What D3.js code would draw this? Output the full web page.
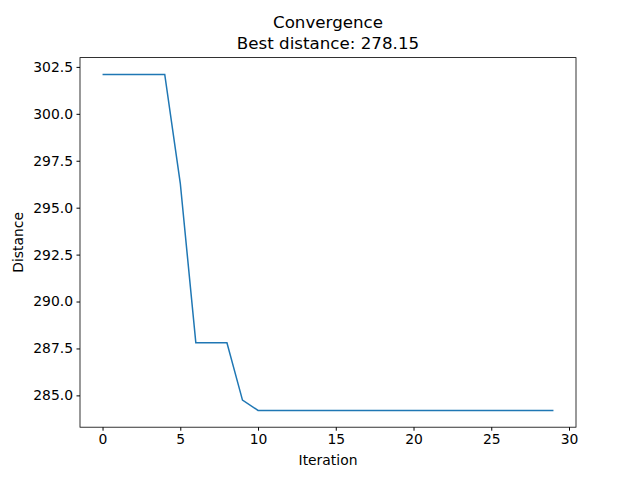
<!DOCTYPE html>
<html><head><meta charset="utf-8">
<script src="https://cdn.jsdelivr.net/npm/d3@7"></script>
<style>body{margin:0;background:#fff}text{font-family:"DejaVu Sans",sans-serif}</style>
</head><body>
<script>
const iterations = d3.range(30);
const distances = [302.1,302.1,302.1,302.1,302.1,296.3,287.8,287.8,287.8,284.75,
  284.2,284.2,284.2,284.2,284.2,284.2,284.2,284.2,284.2,284.2,
  284.2,284.2,284.2,284.2,284.2,284.2,284.2,284.2,284.2,284.2];
const xTicks = [0,5,10,15,20,25,30];
const yTicks = [285,287.5,290,292.5,295,297.5,300,302.5];

const W = 640, H = 480, L = 80, R = 576, T = 57.6, B = 427.2;
const svg = d3.select("body").append("svg").attr("width", W).attr("height", H);

const ymin = d3.min(distances), ymax = d3.max(distances), m = (ymax - ymin) * 0.05;
const x = d3.scaleLinear().domain([-1.45, 30.45]).range([L, R]);
const y = d3.scaleLinear().domain([ymin - m, ymax + m]).range([B, T]);

const xa = svg.append("g").attr("transform", `translate(0,${B})`)
  .call(d3.axisBottom(x).tickValues(xTicks).tickSize(3.5).tickPadding(3.5).tickFormat(d3.format("d")));
const ya = svg.append("g").attr("transform", `translate(${L},0)`)
  .call(d3.axisLeft(y).tickValues(yTicks).tickSize(3.5).tickPadding(3.5).tickFormat(d3.format(".1f")));
[xa, ya].forEach(a => {
  a.select(".domain").remove();
  a.selectAll("text").attr("font-size", 13.9).attr("fill", "#000");
  a.selectAll("line").attr("stroke", "#000");
});

svg.append("path").datum(iterations)
  .attr("d", d3.line().x(i => x(i)).y(i => y(distances[i])))
  .attr("fill", "none").attr("stroke", "#1f77b4").attr("stroke-width", 1.5);

svg.append("rect").attr("x", L).attr("y", T).attr("width", R - L).attr("height", B - T)
  .attr("fill", "none").attr("stroke", "#000").attr("stroke-width", 0.8);

svg.append("text").attr("x", (L + R) / 2).attr("y", 465).attr("text-anchor", "middle")
  .attr("font-size", 13.9).text("Iteration");
svg.append("text").attr("transform", `translate(23,${(T + B) / 2}) rotate(-90)`)
  .attr("text-anchor", "middle").attr("font-size", 13.9).text("Distance");
svg.append("text").attr("x", (L + R) / 2).attr("y", 28).attr("text-anchor", "middle")
  .attr("font-size", 16.7).text("Convergence");
svg.append("text").attr("x", (L + R) / 2).attr("y", 49).attr("text-anchor", "middle")
  .attr("font-size", 16.7).text("Best distance: 278.15");
</script>
</body></html>
